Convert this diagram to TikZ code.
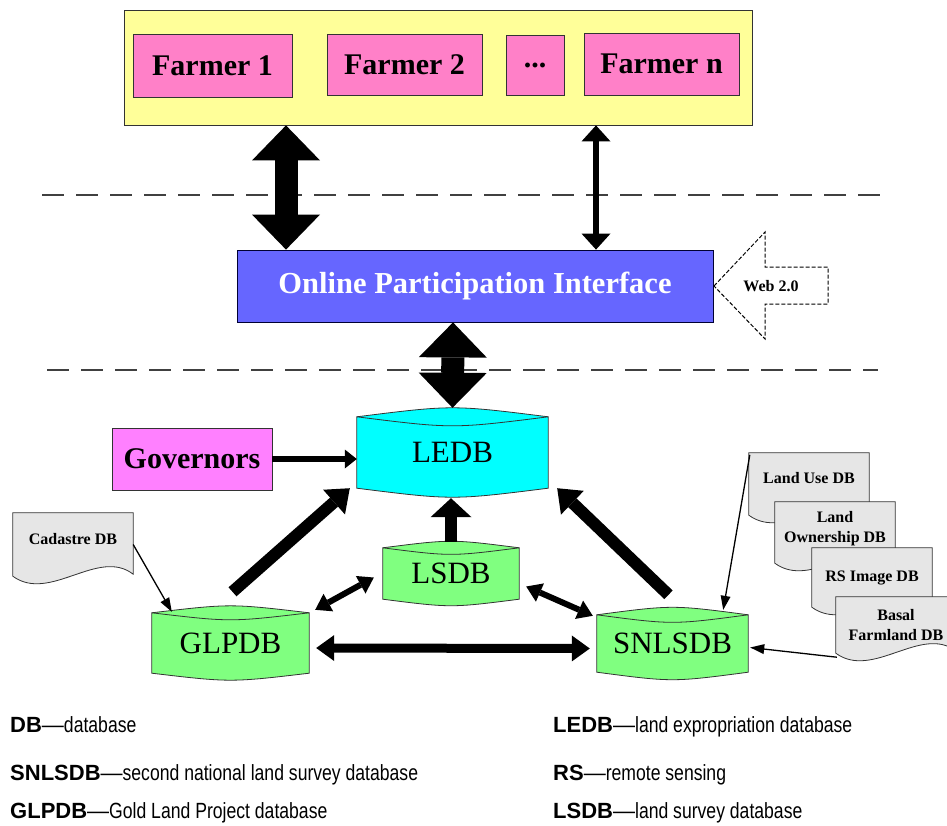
\documentclass[tikz,border=0pt]{standalone}
\usepackage{fontspec}
\setmainfont{Liberation Serif}
\newfontfamily\keyfont{Liberation Sans}
\newfontfamily\keyfontnarrow[FakeStretch=0.8]{Liberation Sans}
\usetikzlibrary{arrows.meta,calc}
\pgfdeclarelayer{background}
\pgfsetlayers{background,main}

\definecolor{paleyellow}{HTML}{FFFF99}
\definecolor{farmerpink}{HTML}{FF80C8}
\definecolor{portalblue}{HTML}{6666FF}
\definecolor{govmagenta}{HTML}{FF80FF}
\definecolor{dbcyan}{HTML}{00FFFF}
\definecolor{dbgreen}{HTML}{80FF80}
\definecolor{docgray}{HTML}{E6E6E6}
\definecolor{edge}{HTML}{333333}

% barrel-shaped database symbol behind a named node (node, fill, bulge control offset)
\newcommand\dbbarrel[3]{%
  \begin{pgfonlayer}{background}
    \filldraw[fill=#2, draw=edge, line width=0.8pt]
      (#1.north west) .. controls ($(#1.north)+(0,-#3)$) .. (#1.north east)
      -- (#1.south east) .. controls ($(#1.south)+(0,#3)$) .. (#1.south west) -- cycle;
    \draw[edge, line width=0.8pt]
      (#1.north west) .. controls ($(#1.north)+(0,#3)$) .. (#1.north east);
  \end{pgfonlayer}}

% document symbol with a wavy lower edge behind a named node
\newcommand\docsheet[1]{%
  \begin{pgfonlayer}{background}
    \filldraw[fill=docgray, draw=edge, line width=0.8pt]
      (#1.north west) -- (#1.north east) -- ($(#1.south east)+(0,-2)$)
      .. controls ($(#1.south east)+(-35,-29)$) and ($(#1.south west)+(37,27)$) .. (#1.south west) -- cycle;
  \end{pgfonlayer}}

% abbreviation key entry
\newcommand\keyterm[2]{{\keyfont\bfseries #1}{\keyfont —}{\keyfontnarrow #2}}

\begin{document}
\begin{tikzpicture}[x=1pt, y=-1pt,
  farmer/.style={draw=edge, line width=0.8pt, fill=farmerpink, inner sep=0pt,
    font=\bfseries\fontsize{30}{32}\selectfont},
  dbname/.style={inner sep=0pt, font=\fontsize{31}{33}\selectfont},
  docname/.style={inner sep=0pt, align=center, minimum width=120pt,
    font=\bfseries\fontsize{16}{20}\selectfont},
  docraised/.style={docname, text depth=12pt},
  separator/.style={draw=black!75, line width=1.2pt, dash pattern=on 22pt off 12pt},
  fatdouble/.style={line width=23pt,
    {Triangle[width=68pt,length=35pt,line width=0pt]}-{Triangle[width=68pt,length=35pt,line width=0pt]}},
  slimdouble/.style={line width=6pt,
    {Triangle[width=29pt,length=16pt,line width=0pt]}-{Triangle[width=29pt,length=16pt,line width=0pt]}},
  feedarrow/.style={line width=12pt, -{Triangle[width=33pt,length=21pt,line width=0pt]}},
  lsdbarrow/.style={line width=12pt, -{Triangle[width=41pt,length=19pt,line width=0pt]}},
  linkdouble/.style={line width=9pt,
    {Triangle[width=26pt,length=18pt,line width=0pt]}-{Triangle[width=26pt,length=18pt,line width=0pt]}},
  shortdouble/.style={line width=6pt,
    {Triangle[width=20pt,length=15pt,line width=0pt]}-{Triangle[width=20pt,length=15pt,line width=0pt]}},
  govarrow/.style={line width=6pt, -{Triangle[width=19pt,length=12pt,line width=0pt]}},
  thinarrow/.style={line width=1.3pt, -{Triangle[width=10pt,length=14pt,line width=0pt]}},
  keyentry/.style={anchor=base west, inner sep=0pt, font=\fontsize{22}{24}\selectfont}
]
\useasboundingbox (0,0) rectangle (947,825);

% farmers
\node[draw=edge, line width=0.8pt, fill=paleyellow, minimum width=628pt, minimum height=115pt, inner sep=0pt]
  (farmers) at (438,67.5) {};
\node[farmer, minimum width=159pt, minimum height=63pt] (f1) at (212.5,65.5) {Farmer 1};
\node[farmer, minimum width=155pt, minimum height=61pt] (f2) at (404.5,64.5) {Farmer 2};
\node[farmer, minimum width=58pt, minimum height=60pt] (fdots) at (535,65) {...};
\node[farmer, minimum width=155pt, minimum height=62pt] (fn) at (661.5,64) {Farmer n};

% layer separators
\draw[separator] (42,195) -- (880,195);
\draw[separator] (47,370) -- (878,370);

% participation interface
\node[draw=black!80!blue, line width=0.8pt, fill=portalblue, text=white, minimum width=476pt,
  minimum height=72pt, inner sep=0pt, font=\bfseries\fontsize{30.5}{32}\selectfont]
  (opi) at (475,286) {Online Participation Interface};

% Web 2.0 hollow arrow
\node[inner sep=0pt, font=\bfseries\fontsize{16}{18}\selectfont] (web) at (771,286) {Web 2.0};
\draw[black, line width=1pt, dash pattern=on 4pt off 2pt]
  (714,286) -- (765,232) -- (765,267) -- (828,267) -- (828,304) -- (765,304) -- (765,339) -- cycle;

% databases
\node[dbname, minimum width=191pt, minimum height=71pt] (ledb) at (452.5,452.5) {LEDB};
\dbbarrel{ledb}{dbcyan}{12}
\node[dbname, minimum width=136pt, minimum height=51pt] (lsdb) at (451,573.5) {LSDB};
\dbbarrel{lsdb}{dbgreen}{8.7}
\node[dbname, minimum width=157pt, minimum height=60pt] (glpdb) at (230.5,643) {GLPDB};
\dbbarrel{glpdb}{dbgreen}{9.3}
\node[dbname, minimum width=151pt, minimum height=57pt] (snlsdb) at (672.5,643.5) {SNLSDB};
\dbbarrel{snlsdb}{dbgreen}{10}

% governors
\node[draw=edge, line width=0.8pt, fill=govmagenta, minimum width=160pt, minimum height=62pt,
  inner sep=0pt, font=\bfseries\fontsize{30}{32}\selectfont] (gov) at (192,459) {Governors};

% source documents
\node[docraised, minimum height=63pt] (cad) at (73,544.5) {Cadastre DB};
\docsheet{cad}
\node[docraised, minimum height=62pt] (landuse) at (809,484) {Land Use DB};
\docsheet{landuse}
\node[docraised, minimum height=61pt] (owner) at (835,532.5) {Land\\Ownership DB};
\docsheet{owner}
\node[docname, minimum height=59pt] (rsimg) at (872,577.5) {RS Image DB};
\docsheet{rsimg}
\node[docname, minimum height=56pt] (basal) at (896,625) {Basal\\Farmland DB};
\docsheet{basal}

% connectors between layers
\coordinate (leftlink) at (286,0);
\coordinate (rightlink) at (596,0);
\draw[fatdouble] (leftlink |- farmers.south) -- (leftlink |- opi.north);
\draw[slimdouble] (rightlink |- farmers.south) -- (rightlink |- opi.north);
\draw[fatdouble] ($(opi.south)+(-22,0)$) -- ($(ledb.north)+(0,-9)$);

% connectors between databases
\draw[govarrow] (gov.east) -- (gov.east -| ledb.west);
\draw[lsdbarrow] ($(lsdb.north)+(0,-6)$) -- ($(lsdb.north |- ledb.south)+(0,10)$);
\draw[feedarrow] ($(glpdb.north)+(2,-21)$) -- ($(ledb.south west)+(-7,0)$);
\draw[feedarrow] ($(snlsdb.north)+(-4,-20)$) -- ($(ledb.south east)+(9,0)$);
\draw[linkdouble] ($(glpdb.east)+(7,5)$) -- ($(snlsdb.west)+(-7,5)$);
\draw[shortdouble] ($(glpdb.north east)+(6,-3)$) -- ($(lsdb.west)+(-9,4)$);
\draw[shortdouble] ($(lsdb.east)+(7,13)$) -- ($(snlsdb.north west)+(-4,1)$);

% connectors from documents
\draw[thinarrow] (cad.east) -- ($(glpdb.north west)+(20,-1)$);
\draw[thinarrow] ($(landuse.north west)+(1,2)$) -- ($(snlsdb.north east)+(-25,-5)$);
\draw[thinarrow] ($(basal.south west)+(1,4)$) -- ($(snlsdb.east)+(2,4)$);

% abbreviation key
\node[keyentry] (kdb) at (10,732) {\keyterm{DB}{database}};
\node[keyentry] (ksnl) at (10,780) {\keyterm{SNLSDB}{second national land survey database}};
\node[keyentry] (kglp) at (10,818) {\keyterm{GLPDB}{Gold Land Project database}};
\node[keyentry] (kled) at (553,732) {\keyterm{LEDB}{land expropriation database}};
\node[keyentry] (krs) at (553,780) {\keyterm{RS}{remote sensing}};
\node[keyentry] (kls) at (553,818) {\keyterm{LSDB}{land survey database}};
\end{tikzpicture}
\end{document}
